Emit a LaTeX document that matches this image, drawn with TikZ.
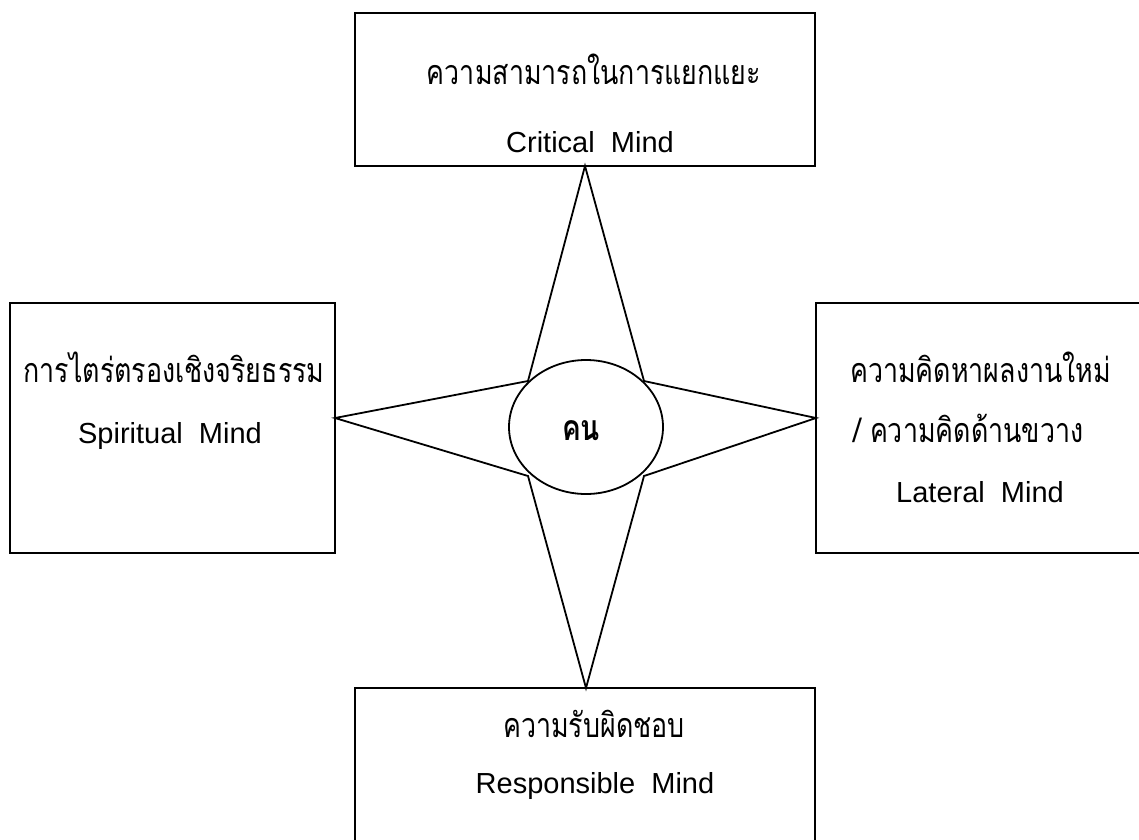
\documentclass[tikz,border=0pt]{standalone}
\usepackage{graphicx}
\usepackage{fontspec}
\setmainfont{Liberation Sans}
\newfontfamily\thai[Script=Thai]{Loma}
\usetikzlibrary{shapes.geometric}
\newcommand{\tall}[1]{\scalebox{1}[1.27]{#1}}
\begin{document}
\begin{tikzpicture}[x=1pt,y=-1pt,
  frame/.style={draw,line width=1.8pt,inner sep=0pt,outer sep=0pt},
  lat/.style={font=\fontsize{29}{34}\selectfont, inner sep=0pt, anchor=base},
  th/.style={font=\thai\fontsize{26.8}{32}\selectfont, inner sep=0pt, anchor=base}]
\useasboundingbox (0,0) rectangle (1139,839);
\clip (0,0) rectangle (1139,839);
% boxes
\node[frame, minimum width=460pt, minimum height=153pt, anchor=north west] (topbox) at (355,13) {};
\node[frame, minimum width=325pt, minimum height=250pt, anchor=north west] (leftbox) at (10,303) {};
\node[frame, minimum width=360pt, minimum height=250pt, anchor=north west] (rightbox) at (816,303) {};
\node[frame, minimum width=460pt, minimum height=220pt, anchor=north west] (botbox) at (355,688) {};
% star points
\coordinate (ul) at (528,381);
\coordinate (ur) at (644,381);
\coordinate (lr) at (644,476);
\coordinate (ll) at (528,476);
\coordinate (ttip) at (585,166);
\coordinate (btip) at (586,688);
\coordinate (rtip) at (816,418);
\coordinate (ltip) at (335,418);
\draw[line width=1.8pt, line join=miter] (ttip) -- (ur) -- (rtip) -- (lr) -- (btip) -- (ll) -- (ltip) -- (ul) -- cycle;
\node[draw, ellipse, line width=1.8pt, fill=white, minimum width=154pt, minimum height=134pt, inner sep=0pt] (person) at (586,427) {};
\node[th, font=\thai\bfseries\fontsize{28}{32}\selectfont] (persontext) at (581,440) {\tall{คน}};
% texts
\node[th] (t1) at (594,84) {\tall{ความสามารถในการแยกแยะ}};
\node[lat] (t2) at (590,152) {Critical\ \ Mind};
\node[th] (l1) at (174,382) {\tall{การไตร่ตรองเชิงจริยธรรม}};
\node[lat] (l2) at (170,443) {Spiritual\ \ Mind};
\node[th, anchor=base west] (r1) at (850,382) {\tall{ความคิดหาผลงานใหม่}};
\node[th, anchor=base west] (r2) at (853,442) {\tall{/ ความคิดด้านขวาง}};
\node[lat] (r3) at (980,502) {Lateral\ \ Mind};
\node[th] (b1) at (594,737) {\tall{ความรับผิดชอบ}};
\node[lat] (b2) at (595,793) {Responsible\ \ Mind};
\end{tikzpicture}
\end{document}
